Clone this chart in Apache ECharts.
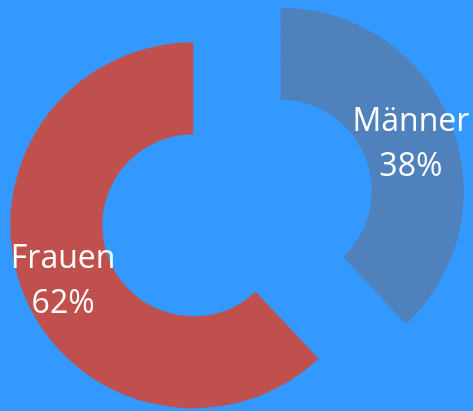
<!DOCTYPE html>
<html>
<head>
<meta charset="utf-8">
<script src="https://cdn.jsdelivr.net/npm/echarts@6/dist/echarts.min.js"></script>
<style>
  html, body { margin: 0; padding: 0; background: #3399ff; }
  #chart { width: 473px; height: 411px; }
</style>
</head>
<body>
<div id="chart"></div>
<script>
const categories = ['Männer', 'Frauen']
const shares = [38, 62]
const colors = ['#4f81bd', '#c0504d']

const chart = echarts.init(document.getElementById('chart'))

const option = {
  backgroundColor: '#3399ff',
  animation: false,
  series: [{
    type: 'pie',
    center: [237, 208],
    radius: [91, 183],
    startAngle: 90,
    clockwise: true,
    selectedMode: 'multiple',
    selectedOffset: 47,
    silent: true,
    data: categories.map((name, i) => ({
      name,
      value: shares[i],
      selected: true,
      itemStyle: { color: colors[i] }
    })),
    label: {
      show: true,
      position: 'inside',
      formatter: '{b}\n{d}%',
      color: '#fff',
      fontFamily: 'Open Sans',
      fontSize: 32,
      lineHeight: 45,
      align: 'center'
    },
    labelLayout: { dy: 5 },
    labelLine: { show: false },
    emphasis: { disabled: true }
  }]
}

chart.setOption(option)
</script>
</body>
</html>
